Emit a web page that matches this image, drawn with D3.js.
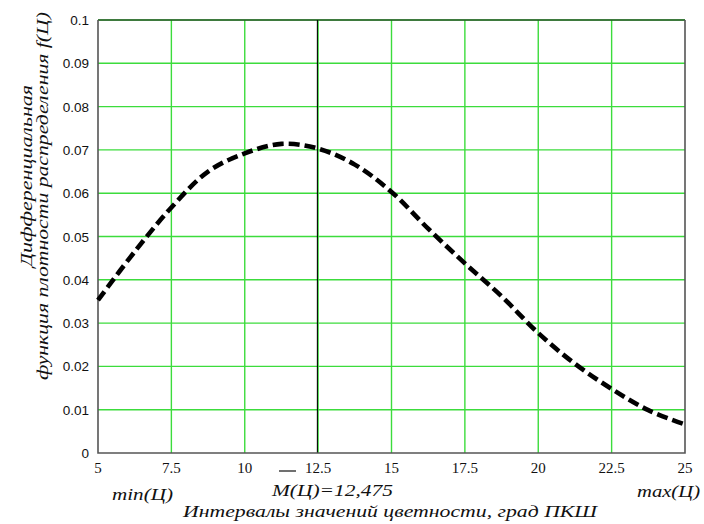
<!DOCTYPE html>
<html><head><meta charset="utf-8">
<script src="https://cdn.jsdelivr.net/npm/d3@7"></script>
<style>
body{margin:0;background:#fff;}
svg{display:block;}
.serif{font-family:"Liberation Serif","Times New Roman",serif;}
.sans{font-family:"Liberation Sans",Arial,sans-serif;}
</style></head>
<body>
<svg id="chart" width="704" height="524"></svg>
<script>
const xValues = [5, 6.25, 7.5, 8.75, 10, 11.25, 12.5, 13.75, 15, 16.25, 17.5, 18.75, 20, 21.25, 22.5, 23.75, 25];
const fValues = [0.0353, 0.0465, 0.0567, 0.0650, 0.0692, 0.0714, 0.0703, 0.0666, 0.0603, 0.0518, 0.0438, 0.0362, 0.0277, 0.0206, 0.0148, 0.0099, 0.0066];
const xTicks = [5, 7.5, 10, 12.5, 15, 17.5, 20, 22.5, 25];
const xTickLabels = ["5", "7.5", "10", "12.5", "15", "17.5", "20", "22.5", "25"];
const yTicks = [0, 0.01, 0.02, 0.03, 0.04, 0.05, 0.06, 0.07, 0.08, 0.09, 0.1];
const yTickLabels = ["0", "0.01", "0.02", "0.03", "0.04", "0.05", "0.06", "0.07", "0.08", "0.09", "0.1"];
const meanValue = 12.475;
const meanLabel = "M(Ц)=12,475";
const minLabel = "min(Ц)";
const maxLabel = "max(Ц)";
const xTitle = "Интервалы значений цветности, град ПКШ";
const yTitle1 = "Дифференциальная";
const yTitle2 = "функция плотности распределения f(Ц)";

const svg = d3.select("#chart");
const L = 98, R = 685, T = 20, B = 453;
const x = d3.scaleLinear().domain([5, 25]).range([L, R]);
const y = d3.scaleLinear().domain([0, 0.1]).range([B, T]);
const grid = "#3cdc3c";

// grid
svg.append("g").selectAll("line").data(xTicks.slice(1, -1)).join("line")
  .attr("x1", d => x(d)).attr("x2", d => x(d)).attr("y1", T).attr("y2", B)
  .attr("stroke", grid).attr("stroke-width", 1.4);
svg.append("g").selectAll("line").data(yTicks.slice(1)).join("line")
  .attr("x1", L).attr("x2", R).attr("y1", d => y(d)).attr("y2", d => y(d))
  .attr("stroke", grid).attr("stroke-width", 1.4);

// mean marker
svg.append("line").attr("x1", x(meanValue)).attr("x2", x(meanValue))
  .attr("y1", T).attr("y2", B).attr("stroke", "#000").attr("stroke-width", 1.1);

// frame
svg.append("line").attr("x1", L).attr("x2", R).attr("y1", T).attr("y2", T).attr("stroke", "#111").attr("stroke-width", 1.2);
svg.append("path").attr("d", `M${L},${T}V${B}H${R}V${T}`).attr("fill", "none").attr("stroke", "#555").attr("stroke-width", 1.6);

// curve
const data = xValues.map((v, i) => [v, fValues[i]]);
svg.append("path").datum(data)
  .attr("d", d3.line().x(d => x(d[0])).y(d => y(d[1])).curve(d3.curveCatmullRom.alpha(0.5)))
  .attr("fill", "none").attr("stroke", "#000").attr("stroke-width", 4.6)
  .attr("stroke-dasharray", "11,5");

// y tick labels
svg.append("g").selectAll("text").data(yTicks).join("text")
  .attr("class", "sans").attr("x", 89).attr("y", d => y(d) + 5)
  .attr("text-anchor", "end").attr("font-size", 13.5).attr("fill", "#111")
  .text((d, i) => yTickLabels[i]);

// x tick labels
svg.append("g").selectAll("text").data(xTicks).join("text")
  .attr("class", "serif").attr("x", d => x(d)).attr("y", 473)
  .attr("text-anchor", "middle").attr("font-size", 15).attr("fill", "#111")
  .text((d, i) => xTickLabels[i]);

function label(txt, xx, yy, len, size, anchor, rot) {
  const t = svg.append("text").attr("class", "serif")
    .attr("font-size", size).attr("font-style", "italic").attr("fill", "#111")
    .attr("text-anchor", anchor || "start")
    .attr("textLength", len).attr("lengthAdjust", "spacingAndGlyphs")
    .text(txt);
  if (rot) t.attr("transform", `translate(${xx},${yy}) rotate(-90)`);
  else t.attr("x", xx).attr("y", yy);
  return t;
}

// min / max / mean labels
label(minLabel, 112, 500, 61, 17);
label(maxLabel, 637, 497, 63, 17);
label(meanLabel, 272, 496, 121, 17);
svg.append("line").attr("x1", 279).attr("x2", 296).attr("y1", 471).attr("y2", 471)
  .attr("stroke", "#111").attr("stroke-width", 1.2);

// axis titles
label(xTitle, 390, 517, 414, 17, "middle");
label(yTitle1, 32, 176, 182, 17, "middle", true);
label(yTitle2, 48, 196, 368, 17, "middle", true);
</script>
</body></html>
